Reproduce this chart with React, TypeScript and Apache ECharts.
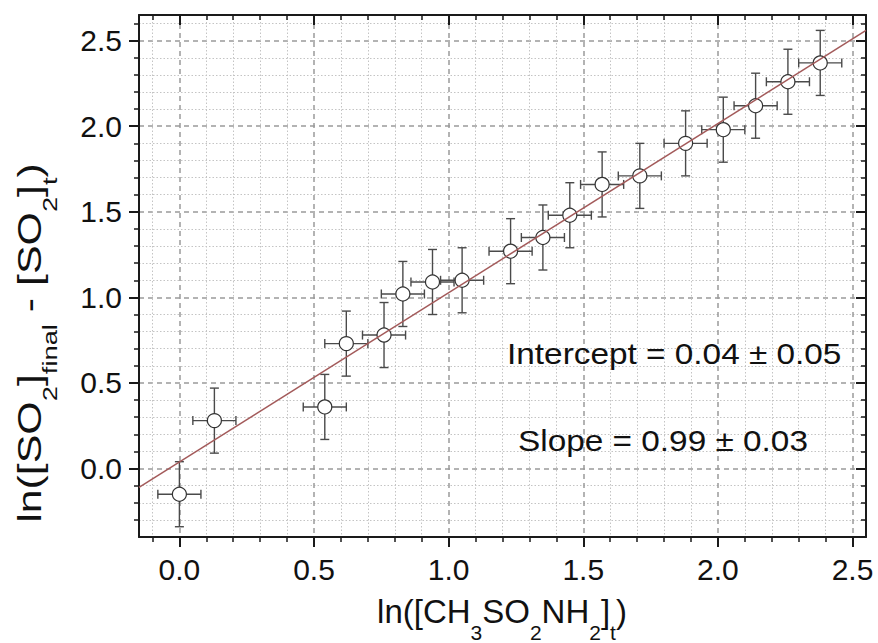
import React, { useEffect, useRef } from 'react';
import * as echarts from 'echarts';

// ---- data ----
const xValues = [0.0, 0.13, 0.54, 0.62, 0.76, 0.83, 0.94, 1.05, 1.23, 1.35, 1.45, 1.57, 1.71, 1.88, 2.02, 2.14, 2.26, 2.38];
const yValues = [-0.15, 0.28, 0.36, 0.73, 0.78, 1.02, 1.09, 1.1, 1.27, 1.35, 1.48, 1.66, 1.71, 1.9, 1.98, 2.12, 2.26, 2.37];
const xErrors = [0.08, 0.08, 0.08, 0.08, 0.08, 0.08, 0.08, 0.08, 0.08, 0.08, 0.08, 0.08, 0.08, 0.08, 0.08, 0.08, 0.08, 0.08];
const yErrors = [0.19, 0.19, 0.19, 0.19, 0.19, 0.19, 0.19, 0.19, 0.19, 0.19, 0.19, 0.19, 0.19, 0.19, 0.19, 0.19, 0.19, 0.19];
const fitX = [-0.15, 2.55];
const fitY = [-0.11, 2.56];

const xMajorTicks = [0, 0.5, 1.0, 1.5, 2.0, 2.5];
const xMinorTicks = [-0.1, 0.1, 0.2, 0.3, 0.4, 0.6, 0.7, 0.8, 0.9, 1.1, 1.2, 1.3, 1.4, 1.6, 1.7, 1.8, 1.9, 2.1, 2.2, 2.3, 2.4];
const yMajorTicks = [0, 0.5, 1.0, 1.5, 2.0, 2.5];
const yMinorTicks = [-0.3, -0.2, -0.1, 0.1, 0.2, 0.3, 0.4, 0.6, 0.7, 0.8, 0.9, 1.1, 1.2, 1.3, 1.4, 1.6, 1.7, 1.8, 1.9, 2.1, 2.2, 2.3, 2.4, 2.6];

const interceptText = 'Intercept = 0.04 ± 0.05';
const slopeText = 'Slope = 0.99 ± 0.03';

const X_MIN = -0.15;
const X_MAX = 2.55;
const Y_MIN = -0.4;
const Y_MAX = 2.65;

const FONT = "'Liberation Sans', Arial, Helvetica, sans-serif";
const FRAME = '#1a1a1a';

function makeAxis(kind: 'x' | 'y', position: string, major: boolean, inside: boolean, showLine: boolean, showLabel: boolean) {
  const majorVals = kind === 'x' ? xMajorTicks : yMajorTicks;
  const minorVals = kind === 'x' ? xMinorTicks : yMinorTicks;
  const vals = major ? majorVals : minorVals;
  const isMainSide = position === 'bottom' || position === 'left';
  return {
    type: 'value',
    gridIndex: 0,
    position,
    min: kind === 'x' ? X_MIN : Y_MIN,
    max: kind === 'x' ? X_MAX : Y_MAX,
    axisLine: { show: showLine, onZero: false, lineStyle: { color: FRAME, width: 2 } },
    axisTick: {
      show: true,
      inside,
      customValues: vals,
      length: major ? 10 : 5,
      lineStyle: { color: FRAME, width: major ? 2 : 1.5 },
    },
    axisLabel: {
      show: showLabel,
      customValues: majorVals,
      formatter: (v: number) => v.toFixed(1),
      fontSize: 30,
      fontFamily: FONT,
      color: '#111',
      margin: kind === 'x' ? 17 : 17,
    },
    splitLine: {
      show: isMainSide,
      lineStyle: major
        ? { color: '#9a9a9a', width: 1.5, type: [5, 4] }
        : { color: '#c4c4c4', width: 1, type: [1.5, 2] },
    },
    minorTick: { show: false },
    minorSplitLine: { show: false },
  };
}

const subPad = 27;
const richStyles = {
  m: { fontSize: 33, fontFamily: FONT, fill: '#111', color: '#111', lineHeight: 33, verticalAlign: 'top' },
  s: { fontSize: 21, fontFamily: FONT, fill: '#111', color: '#111', lineHeight: 21, verticalAlign: 'top', padding: [subPad, 0, 0, 0] },
};

export default function App() {
  const ref = useRef<HTMLDivElement>(null);

  useEffect(() => {
    if (!ref.current) return;
    const chart = echarts.init(ref.current, undefined, { renderer: 'svg' });

    const scatterData = xValues.map((x, i) => [x, yValues[i]]);
    const errData = xValues.map((x, i) => [x, yValues[i], xErrors[i], yErrors[i]]);
    const fitData = fitX.map((x, i) => [x, fitY[i]]);

    const option: any = {
      animation: false,
      backgroundColor: '#ffffff',
      grid: { left: 139, right: 12, top: 15, bottom: 106, containLabel: false },
      xAxis: [
        makeAxis('x', 'bottom', true, false, true, true),
        makeAxis('x', 'bottom', false, false, false, false),
        makeAxis('x', 'top', true, true, true, false),
        makeAxis('x', 'top', false, true, false, false),
      ],
      yAxis: [
        makeAxis('y', 'left', true, false, true, true),
        makeAxis('y', 'left', false, false, false, false),
        makeAxis('y', 'right', true, true, true, false),
        makeAxis('y', 'right', false, true, false, false),
      ],
      series: [
        {
          type: 'custom',
          xAxisIndex: 0,
          yAxisIndex: 0,
          z: 3,
          data: errData,
          encode: { x: 0, y: 1 },
          renderItem: (params: any, api: any) => {
            const x = api.value(0);
            const y = api.value(1);
            const ex = api.value(2);
            const ey = api.value(3);
            const l = api.coord([x - ex, y]);
            const r = api.coord([x + ex, y]);
            const t = api.coord([x, y + ey]);
            const b = api.coord([x, y - ey]);
            const cap = 4.5;
            const style = { stroke: '#4a4a4a', lineWidth: 1.4, fill: 'none' };
            return {
              type: 'group',
              children: [
                { type: 'line', shape: { x1: l[0], y1: l[1], x2: r[0], y2: r[1] }, style },
                { type: 'line', shape: { x1: t[0], y1: t[1], x2: b[0], y2: b[1] }, style },
                { type: 'line', shape: { x1: l[0], y1: l[1] - cap, x2: l[0], y2: l[1] + cap }, style },
                { type: 'line', shape: { x1: r[0], y1: r[1] - cap, x2: r[0], y2: r[1] + cap }, style },
                { type: 'line', shape: { x1: t[0] - cap, y1: t[1], x2: t[0] + cap, y2: t[1] }, style },
                { type: 'line', shape: { x1: b[0] - cap, y1: b[1], x2: b[0] + cap, y2: b[1] }, style },
              ],
            };
          },
        },
        {
          type: 'scatter',
          xAxisIndex: 0,
          yAxisIndex: 0,
          z: 4,
          symbol: 'circle',
          symbolSize: 14,
          data: scatterData,
          itemStyle: { color: '#ffffff', borderColor: '#333333', borderWidth: 1.2, opacity: 1 },
        },
        {
          type: 'line',
          xAxisIndex: 0,
          yAxisIndex: 0,
          z: 5,
          data: fitData,
          showSymbol: false,
          symbol: 'none',
          lineStyle: { color: '#a35a5a', width: 1.5 },
        },
      ],
      graphic: [
        {
          type: 'text',
          x: 507,
          y: 354,
          scaleX: 1.15,
          z: 10,
          style: {
            text: interceptText,
            fontSize: 29,
            fontFamily: FONT,
            fill: '#111',
            align: 'left',
            verticalAlign: 'middle',
          },
        },
        {
          type: 'text',
          x: 518,
          y: 441,
          scaleX: 1.15,
          z: 10,
          style: {
            text: slopeText,
            fontSize: 29,
            fontFamily: FONT,
            fill: '#111',
            align: 'left',
            verticalAlign: 'middle',
          },
        },
        {
          type: 'text',
          x: 502,
          y: 611,
          z: 10,
          style: {
            text: '{m|ln([CH}{s|3}{m|SO}{s|2}{m|NH}{s|2}{m|]}{s|t}{m|)}',
            rich: richStyles,
            align: 'center',
            verticalAlign: 'middle',
          },
        },
        {
          type: 'text',
          x: 29,
          y: 343,
          rotation: Math.PI / 2,
          scaleX: 1.3,
          z: 10,
          style: {
            text: '{m|ln([SO}{s|2}{m|]}{s|final}{m| - [SO}{s|2}{m|]}{s|t}{m|)}',
            rich: richStyles,
            align: 'center',
            verticalAlign: 'middle',
          },
        },
      ],
    };

    chart.setOption(option);
    return () => chart.dispose();
  }, []);

  return (
    <div
      ref={ref}
      style={{ position: 'fixed', left: 0, top: 0, width: 878, height: 643, background: '#fff' }}
    />
  );
}
